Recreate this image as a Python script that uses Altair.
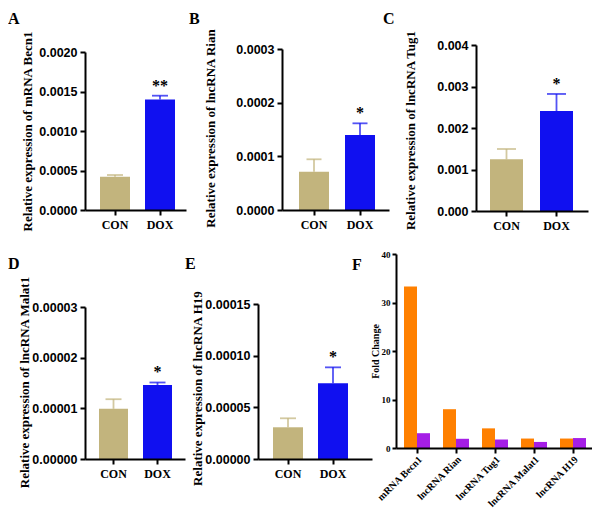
import altair as alt
import pandas as pd

# ---------------- data ----------------
groups = ["CON", "DOX"]

a_mean = [0.000422, 0.001400]
a_err = [0.000021, 0.000047]
a_star = ["", "**"]
a_ticks = [0, 0.0005, 0.0010, 0.0015, 0.0020]

b_mean = [0.0000714, 0.0001398]
b_err = [0.0000231, 0.0000217]
b_star = ["", "*"]
b_ticks = [0, 0.0001, 0.0002, 0.0003]

c_mean = [0.001245, 0.00241]
c_err = [0.000249, 0.00041]
c_star = ["", "*"]
c_ticks = [0, 0.001, 0.002, 0.003, 0.004]

d_mean = [0.0000099, 0.0000146]
d_err = [0.0000019, 0.0000005]
d_star = ["", "*"]
d_ticks = [0, 0.00001, 0.00002, 0.00003]

e_mean = [0.0000307, 0.0000733]
e_err = [0.0000087, 0.0000154]
e_star = ["", "*"]
e_ticks = [0, 0.00005, 0.00010, 0.00015]

f_genes = ["mRNA Becn1", "lncRNA Rian", "lncRNA Tug1", "lncRNA Malat1", "lncRNA H19"]
f_series = ["Series 1", "Series 2"]
f_orange = [33.3, 8.0, 4.05, 1.95, 1.95]
f_purple = [3.05, 1.9, 1.75, 1.25, 2.05]
f_ticks = [0, 10, 20, 30, 40]

letters = ["A", "B", "C", "D", "E", "F"]

# ---------------- styles / layout ----------------
W, H = 584, 500
SERIF = "Liberation Serif"
SANS = "Liberation Sans"
TAN = "#C2B47D"
BLUE = "#1010F0"
ORANGE = "#FF8000"
PURPLE = "#A51EE6"


def band(n, r0, r1, start, step, bw):
    pi = 1 - bw / step
    two_po = (r1 - r0) / step - n + pi
    al = (start - r0) / (step * two_po) if two_po > 0 else 0.5
    return dict(paddingInner=pi, paddingOuter=two_po / 2, align=min(max(al, 0), 1))


def bar_panel(mean, err, star, ticks, fmt, title, lay):
    df = pd.DataFrame({
        "group": groups,
        "mean": mean,
        "upper": [m + e for m, e in zip(mean, err)],
        "star": star,
    })
    sc_x = alt.Scale(domain=groups, range=[lay["x0"], lay["x1"]],
                     **band(2, lay["x0"], lay["x1"], lay["start"], lay["step"], lay["bw"]))
    ax_x = alt.Axis(orient="bottom", offset=lay["y0"] - H, title=None, labelAngle=0,
                    labelFont=SERIF, labelFontWeight="bold", labelFontSize=12,
                    labelPadding=4, zindex=1)
    sc_y = alt.Scale(domain=[0, ticks[-1]], range=[lay["y0"], lay["y1"]], nice=False, zero=False)
    ax_y = alt.Axis(orient="left", offset=-lay["x0"], values=ticks, format=fmt, title=title,
                    titleX=lay["tx"] - lay["x0"], titleY=lay["ty"], titleAngle=270,
                    titleBaseline="middle", titleAlign="center", titleFont=SERIF,
                    titleFontSize=13, titleFontWeight="bold", labelFont=SANS,
                    labelFontSize=12.5, labelFontWeight="bold", labelPadding=3, zindex=1)
    X = alt.X("group:N", scale=sc_x, axis=ax_x)
    col = alt.Color("group:N", scale=alt.Scale(domain=groups, range=[TAN, BLUE]), legend=None)
    base = alt.Chart(df)
    bars = base.mark_bar().encode(
        x=X, y=alt.Y("mean:Q", scale=sc_y, axis=ax_y, stack=None), color=col)
    stem = base.mark_rule(strokeWidth=1.8, opacity=0.72).encode(
        x=X, y=alt.Y("mean:Q", scale=sc_y, axis=ax_y), y2="upper:Q", color=col)
    cap = base.mark_tick(orient="horizontal", size=lay["cap"], thickness=1.8, opacity=0.72).encode(
        x=X, y=alt.Y("upper:Q", scale=sc_y, axis=ax_y), color=col)
    stars = base.mark_text(font=SERIF, fontWeight="bold", fontSize=16, baseline="alphabetic",
                           dy=-5, color="black").encode(
        x=X, y=alt.Y("upper:Q", scale=sc_y, axis=ax_y), text="star:N")
    return alt.layer(bars, stem, cap, stars)


pA = bar_panel(a_mean, a_err, a_star, a_ticks, ".4f", "Relative expression of mRNA Becn1",
               dict(x0=77, x1=178, start=92, step=45, bw=30, y0=202, y1=44, tx=19.5, ty=123, cap=16))
pB = bar_panel(b_mean, b_err, b_star, b_ticks, ".4f", "Relative expression of lncRNA Rian",
               dict(x0=274, x1=381, start=291, step=46, bw=30, y0=202, y1=41, tx=202, ty=120, cap=15))
pC = bar_panel(c_mean, c_err, c_star, c_ticks, ".3f", "Relative expression of lncRNA Tug1",
               dict(x0=468, x1=580, start=482, step=50, bw=33, y0=203, y1=37, tx=402, ty=122, cap=19))
pD = bar_panel(d_mean, d_err, d_star, d_ticks, ".5f", "Relative expression of lncRNA Malat1",
               dict(x0=77, x1=177, start=91, step=44, bw=29, y0=451, y1=299, tx=16, ty=374, cap=16))
pE = bar_panel(e_mean, e_err, e_star, e_ticks, ".5f", "Relative expression of lncRNA H19",
               dict(x0=250, x1=364, start=265, step=45, bw=30, y0=451, y1=296, tx=189, ty=380, cap=16))

# ---------------- panel F ----------------
f_df = pd.DataFrame({
    "gene": f_genes * 2,
    "series": [f_series[0]] * len(f_genes) + [f_series[1]] * len(f_genes),
    "value": f_orange + f_purple,
})
fx0, fx1, fy0, fy1 = 388, 585, 440, 246
pF = alt.Chart(f_df).mark_bar().encode(
    x=alt.X("gene:N",
            scale=alt.Scale(domain=f_genes, range=[fx0, fx1], **band(5, fx0, fx1, 396, 39, 26)),
            axis=alt.Axis(orient="bottom", offset=fy0 - H, title=None, labelAngle=-45,
                          labelAlign="right", labelBaseline="top",
                          labelFont=SERIF, labelFontWeight="bold", labelFontSize=10,
                          labelPadding=1, tickSize=5, zindex=1)),
    xOffset=alt.XOffset("series:N", scale=alt.Scale(domain=f_series, paddingInner=0, paddingOuter=0)),
    y=alt.Y("value:Q", stack=None,
            scale=alt.Scale(domain=[0, 40], range=[fy0, fy1], nice=False, zero=False),
            axis=alt.Axis(orient="left", offset=-fx0, values=f_ticks, format="d",
                          title="Fold Change", titleX=367 - fx0, titleY=343, titleAngle=270,
                          titleBaseline="middle", titleAlign="center", titleFont=SERIF,
                          titleFontSize=10, titleFontWeight="bold", labelFont=SERIF,
                          labelFontSize=9, labelFontWeight="bold", labelPadding=2,
                          tickSize=4, zindex=1)),
    color=alt.Color("series:N", scale=alt.Scale(domain=f_series, range=[ORANGE, PURPLE]), legend=None),
)

# ---------------- panel letters ----------------
letter_pos = [(0, 16), (181, 16), (375, 16), (0, 261), (177, 261), (344, 262)]
letter_layers = []
for ch, (lx, ly) in zip(letters, letter_pos):
    letter_layers.append(
        alt.Chart(pd.DataFrame({"t": [ch]})).mark_text(
            align="left", baseline="alphabetic", font=SERIF, fontWeight="bold",
            fontSize=16, color="black").encode(x=alt.value(lx), y=alt.value(ly), text="t:N"))

chart = alt.layer(pA, pB, pC, pD, pE, pF, *letter_layers).resolve_scale(
    x="independent", y="independent", color="independent"
).resolve_axis(
    x="independent", y="independent"
).properties(
    width=W, height=H, padding=0, autosize=alt.AutoSizeParams(type="none")
).configure_view(stroke=None).configure_axis(
    grid=False, domainColor="black", domainWidth=2, tickColor="black", tickWidth=2,
    tickSize=5, labelColor="black", titleColor="black"
)

chart.save("out.html", embed_options={"renderer": "svg", "actions": False})
